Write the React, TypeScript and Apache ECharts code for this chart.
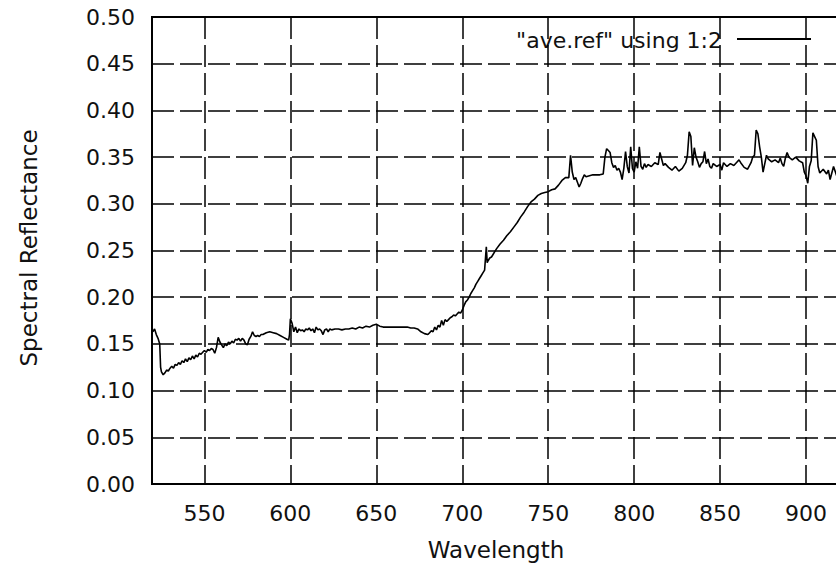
import React, { useEffect, useRef } from "react";
import * as echarts from "echarts";

// Averaged spectral reflectance ("ave.ref", columns 1:2)
const WAVELENGTH: number[] = [
  520, 521, 522, 523, 524, 524.5, 525, 526, 527, 528, 529, 530, 531, 532, 533, 534, 535, 536, 537, 538,
  539, 540, 541, 542, 543, 544, 545, 546, 547, 548, 549, 550, 551, 552, 553, 554, 555, 556, 557, 558,
  559, 560, 561, 562, 563, 564, 565, 566, 567, 568, 569, 570, 571, 572, 573, 574, 575, 576, 577, 578,
  579, 580, 581, 582, 583, 584, 586, 588, 590, 592, 594, 596, 598, 599, 599.5, 600, 601, 602, 603, 604,
  605, 606, 607, 608, 609, 610, 611, 612, 613, 614, 615, 616, 617, 618, 619, 620, 621, 622, 623, 624,
  626, 628, 630, 632, 634, 636, 638, 640, 642, 644, 646, 648, 650, 652, 654, 656, 658, 660, 662, 664,
  666, 668, 670, 672, 674, 676, 678, 680, 681, 682, 683, 684, 685, 686, 687, 688, 689, 690, 691, 692,
  693, 694, 695, 696, 697, 698, 699, 700, 701, 702, 703, 704, 705, 706, 707, 708, 709, 710, 711, 712,
  713, 714, 714.5, 715, 716, 717, 718, 719, 720, 722, 724, 726, 728, 730, 732, 734, 736, 738, 740, 742,
  744, 746, 748, 750, 752, 754, 756, 758, 760, 762, 763, 764, 765, 766, 767, 768, 769, 770, 771, 772,
  774, 776, 778, 780, 782, 783, 784, 785, 786, 787, 788, 789, 790, 791, 792, 793, 794, 795, 796, 797,
  798, 799, 800, 801, 802, 803, 804, 805, 806, 807, 808, 810, 812, 814, 815, 816, 817, 818, 820, 822,
  824, 826, 828, 830, 831, 832, 833, 834, 835, 836, 837, 838, 839, 840, 841, 842, 843, 844, 845, 846,
  848, 850, 851, 852, 854, 856, 858, 860, 861, 862, 864, 866, 868, 869, 870, 871, 872, 873, 874, 875,
  876, 877, 878, 880, 882, 884, 885, 886, 887, 888, 889, 890, 892, 894, 896, 898, 899, 900, 901, 902,
  903, 904, 905, 906, 907, 908, 910, 912, 913, 914, 916, 918, 920, 922, 924,
];

const REFLECTANCE: number[] = [
  0.163, 0.166, 0.160, 0.156, 0.150, 0.125, 0.120, 0.117, 0.119, 0.122, 0.121, 0.124, 0.126, 0.124, 0.128, 0.127, 0.130, 0.128, 0.132, 0.130,
  0.134, 0.131, 0.135, 0.133, 0.137, 0.134, 0.138, 0.136, 0.140, 0.139, 0.141, 0.143, 0.141, 0.144, 0.143, 0.145, 0.144, 0.140, 0.146, 0.157,
  0.152, 0.149, 0.146, 0.150, 0.148, 0.152, 0.150, 0.153, 0.151, 0.155, 0.154, 0.156, 0.153, 0.156, 0.154, 0.150, 0.149, 0.155, 0.158, 0.163,
  0.159, 0.158, 0.159, 0.158, 0.160, 0.160, 0.162, 0.163, 0.162, 0.161, 0.159, 0.157, 0.155, 0.154, 0.160, 0.177, 0.172, 0.163, 0.168, 0.162,
  0.166, 0.164, 0.165, 0.163, 0.166, 0.165, 0.167, 0.164, 0.166, 0.162, 0.168, 0.165, 0.166, 0.164, 0.160, 0.165, 0.166, 0.163, 0.166, 0.165,
  0.166, 0.166, 0.165, 0.166, 0.166, 0.167, 0.166, 0.168, 0.167, 0.169, 0.168, 0.170, 0.171, 0.169, 0.168, 0.168, 0.168, 0.168, 0.168, 0.168,
  0.168, 0.168, 0.167, 0.167, 0.166, 0.163, 0.161, 0.160, 0.162, 0.164, 0.163, 0.168, 0.165, 0.170, 0.168, 0.175, 0.170, 0.176, 0.174, 0.176,
  0.178, 0.179, 0.181, 0.180, 0.182, 0.184, 0.183, 0.186, 0.191, 0.195, 0.197, 0.200, 0.204, 0.207, 0.210, 0.214, 0.217, 0.220, 0.223, 0.226,
  0.229, 0.254, 0.237, 0.239, 0.242, 0.243, 0.246, 0.249, 0.252, 0.257, 0.261, 0.266, 0.270, 0.275, 0.280, 0.286, 0.291, 0.297, 0.302, 0.305,
  0.309, 0.311, 0.312, 0.313, 0.315, 0.316, 0.320, 0.325, 0.328, 0.328, 0.352, 0.334, 0.326, 0.328, 0.323, 0.318, 0.322, 0.327, 0.331, 0.329,
  0.330, 0.331, 0.331, 0.331, 0.332, 0.350, 0.359, 0.357, 0.355, 0.344, 0.339, 0.341, 0.336, 0.338, 0.334, 0.326, 0.338, 0.356, 0.340, 0.333,
  0.361, 0.338, 0.334, 0.345, 0.338, 0.361, 0.340, 0.337, 0.343, 0.339, 0.342, 0.340, 0.344, 0.342, 0.355, 0.348, 0.341, 0.343, 0.339, 0.336,
  0.340, 0.335, 0.338, 0.344, 0.352, 0.377, 0.372, 0.341, 0.360, 0.350, 0.345, 0.339, 0.343, 0.345, 0.356, 0.343, 0.348, 0.340, 0.338, 0.343,
  0.340, 0.342, 0.336, 0.344, 0.340, 0.343, 0.341, 0.345, 0.347, 0.344, 0.339, 0.337, 0.344, 0.350, 0.352, 0.379, 0.375, 0.361, 0.350, 0.334,
  0.343, 0.352, 0.348, 0.345, 0.347, 0.344, 0.349, 0.343, 0.340, 0.349, 0.355, 0.350, 0.347, 0.350, 0.346, 0.344, 0.334, 0.330, 0.322, 0.340,
  0.346, 0.376, 0.372, 0.368, 0.340, 0.333, 0.337, 0.332, 0.336, 0.326, 0.340, 0.329, 0.336, 0.333, 0.338,
];

const SERIES_NAME = '"ave.ref" using 1:2';
const X_TITLE = "Wavelength";
const Y_TITLE = "Spectral Reflectance";

const FONT = "'DejaVu Sans', 'Liberation Sans', Arial, sans-serif";
const INK = "#111";

export default function App() {
  const ref = useRef<HTMLDivElement>(null);

  useEffect(() => {
    if (!ref.current) return;
    const chart = echarts.init(ref.current, null, { renderer: "svg" });

    const points = WAVELENGTH.map((w, i) => [w, REFLECTANCE[i]]);
    const gridLine = { color: "#000", width: 1.5, type: [22, 6] as number[] };

    chart.setOption({
      animation: false,
      backgroundColor: "#fff",
      grid: {
        left: 152,
        top: 17,
        width: 697,
        height: 467,
        // plot frame runs past the right edge of the canvas
        outerBoundsMode: "none",
        show: true,
        borderColor: "#000",
        borderWidth: 2,
        backgroundColor: "transparent",
      },
      xAxis: {
        type: "value",
        min: 519.5,
        max: 925,
        splitNumber: 8,
        axisLine: { show: true, lineStyle: { color: "#000", width: 2 } },
        axisTick: { show: false },
        axisLabel: {
          margin: 18,
          fontSize: 22,
          fontFamily: FONT,
          color: INK,
          showMinLabel: false,
          showMaxLabel: false,
        },
        splitLine: { show: true, lineStyle: gridLine },
      },
      yAxis: {
        type: "value",
        min: 0,
        max: 0.5,
        interval: 0.05,
        axisLine: { show: true, lineStyle: { color: "#000", width: 2 } },
        axisTick: { show: false },
        axisLabel: {
          margin: 17,
          fontSize: 22,
          fontFamily: FONT,
          color: INK,
          formatter: (v: number) => v.toFixed(2),
        },
        splitLine: { show: true, lineStyle: gridLine },
      },
      series: [
        {
          name: SERIES_NAME,
          type: "line",
          data: points,
          showSymbol: false,
          lineStyle: { color: "#000", width: 1.6 },
        },
      ],
      graphic: [
        {
          type: "text",
          x: 496,
          y: 550,
          style: {
            text: X_TITLE,
            fill: INK,
            fontSize: 23,
            fontFamily: FONT,
            align: "center",
            verticalAlign: "middle",
          },
        },
        {
          type: "text",
          x: 29,
          y: 248,
          rotation: Math.PI / 2,
          style: {
            text: Y_TITLE,
            fill: INK,
            fontSize: 23,
            fontFamily: FONT,
            align: "center",
            verticalAlign: "middle",
          },
        },
        {
          type: "text",
          x: 722,
          y: 40,
          style: {
            text: SERIES_NAME,
            fill: INK,
            fontSize: 22,
            fontFamily: FONT,
            align: "right",
            verticalAlign: "middle",
          },
        },
        {
          type: "line",
          shape: { x1: 737, y1: 39, x2: 811, y2: 39 },
          style: { stroke: "#000", lineWidth: 2 },
        },
      ],
    });

    return () => chart.dispose();
  }, []);

  return (
    <div
      ref={ref}
      style={{ position: "fixed", left: 0, top: 0, width: 836, height: 568, background: "#fff" }}
    />
  );
}
